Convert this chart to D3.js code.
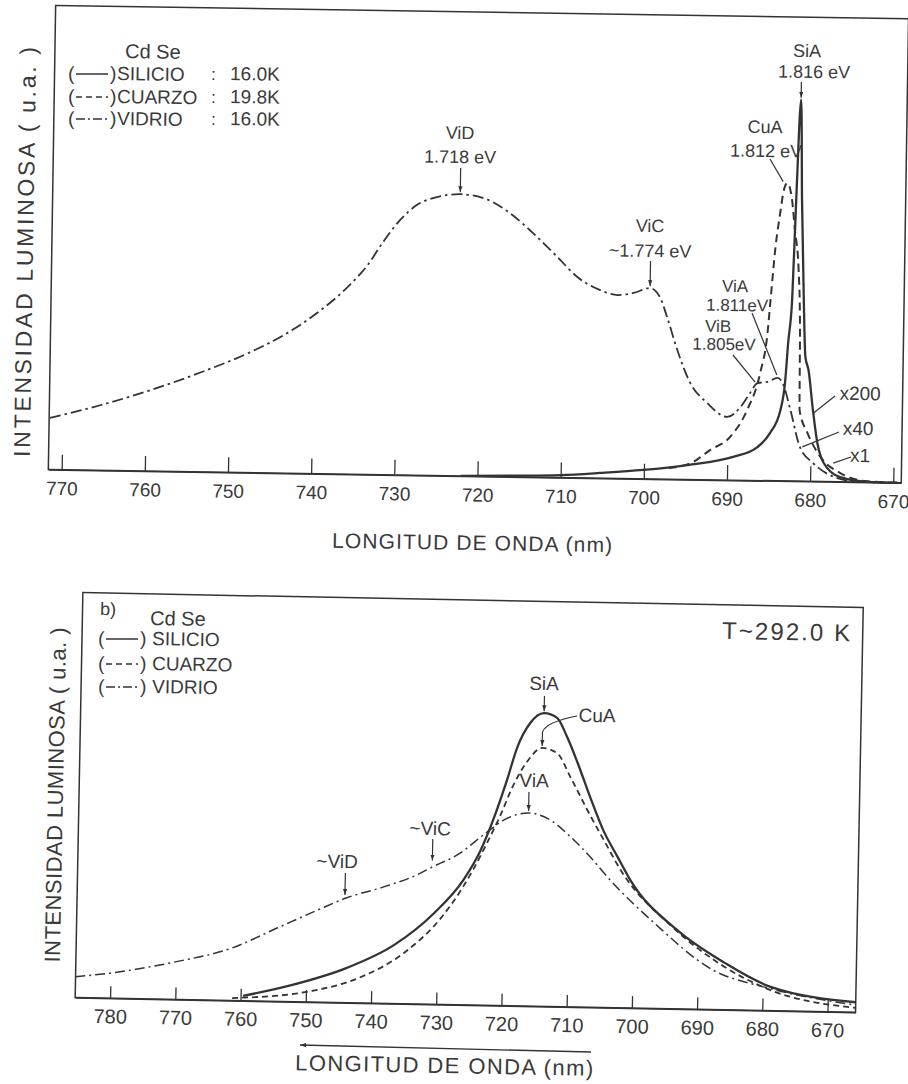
<!DOCTYPE html>
<html><head><meta charset="utf-8">
<script src="https://cdn.jsdelivr.net/npm/d3@7"></script>
<style>
body{margin:0;background:#fff}
svg text{font-family:"Liberation Sans",Arial,Helvetica,sans-serif;fill:#3a3a3a}
</style>
</head><body>
<svg id="chart" width="908" height="1084"></svg>
<script>
// ---------------- DATA ----------------
// Panel a) (low temperature) — wavelength (nm), intensity (a.u., 0-100 of frame height)
const topTickValues = [770,760,750,740,730,720,710,700,690,680,670];
const topSilicio = [[722,0],[716,0.2],[710,0.5],[705.3,1.1],[700.1,1.9],[694.8,3.1],[689.3,5.0],[686.4,7.2],[684.9,10.3],[683.7,15.3],[683.2,21.2],[682.9,29.7],[682.5,39.1],[682.2,60.6],[681.8,82.2],[681.5,60.6],[681.1,39.1],[680.8,26.8],[680.4,24.0],[679.8,15.4],[679.2,8.3],[678.4,4.0],[676.4,1.0],[673.1,0.1],[669.5,0]];
const topCuarzo = [[697,2.4],[694.1,3.8],[692.1,6.4],[689.7,9.3],[687.7,15.2],[686.2,23.2],[685.4,31.8],[685.1,38.9],[684.6,50.4],[684.1,57.7],[683.7,62.7],[683.3,64.2],[682.7,60.6],[682.3,54.1],[681.8,46.1],[681.5,32.6],[681.4,15.3],[680.4,10.4],[678.8,5.3],[676.4,1.9],[673.1,0.2],[669.5,0]];
const topVidrio = [[771.5,11.1],[765.5,14.0],[759.5,17.4],[753.5,21.4],[747.6,25.9],[743.6,29.7],[739.6,34.6],[735.7,40.8],[733.6,45.1],[731.8,50.1],[729.8,54.9],[727.8,58.2],[725.4,60.0],[722.6,60.7],[719.9,60.0],[716.6,56.8],[713.8,52.6],[710.8,47.5],[708.4,43.3],[705.6,40.5],[703.5,39.5],[701.6,40.0],[699.6,41.1],[698.4,39.2],[697.5,34.9],[696.2,27.8],[694.6,20.8],[692.5,16.5],[690.1,13.6],[688.5,15.8],[687.4,18.8],[686.5,21.0],[685.3,21.3],[684.1,22.2],[683.4,20.7],[682.5,15.3],[681.3,7.4],[679.7,4.0],[677.2,1.1],[674.3,0.1],[671,0]];
const topLegendNames = ["SILICIO","CUARZO","VIDRIO"];
const topLegendTemps = ["16.0K","19.8K","16.0K"];
// peak / feature markers: [key, wavelength, intensity]
const topPeakArrows = [["SiA",681.8,82.2],["ViD",722.6,60.7],["ViC",699.6,41.1]];
const topLeaders = [["CuA",683.8,64.5],["ViA",684.2,22.8],["ViB",686.8,21.2],["x200",679.75,14.7],["x40",681.0,7.4],["x1",677.25,4.0]];

// Panel b) (T ~ 292 K)
const botTickValues = [780,770,760,750,740,730,720,710,700,690,680,670];
const botSilicio = [[759.6,1.2],[752.4,4.0],[743.8,8.6],[736.6,14.5],[730.6,22.5],[726.2,30.8],[723.7,38.0],[721.8,45.8],[719.8,55.7],[718.3,63.9],[716.4,69.9],[714.3,72.4],[712.3,71.3],[710.7,66.6],[709.0,60.2],[707.0,51.9],[704.9,43.8],[702.6,37.2],[700.6,31.6],[693.3,19.5],[685.9,11.6],[678.8,5.9],[665.7,2.5]];
const botCuarzo = [[761.3,0.6],[748.9,2.8],[741.9,6.2],[734.9,12.8],[729.6,21.2],[726.2,29.2],[724.7,33.5],[722.7,40.0],[720.7,47.0],[718.8,54.5],[716.7,60.5],[714.5,63.8],[712.2,62.6],[710.1,56.8],[707.4,48.7],[704.8,41.4],[702.1,34.0],[694.0,20.2],[685.9,10.6],[678.8,5.1],[665.7,1.1]];
const botVidrio = [[785.4,5.1],[777.0,7.0],[770.3,9.2],[761.4,13.0],[754.6,18.1],[748.5,22.7],[744.0,25.9],[738.5,28.7],[733.3,31.9],[731.0,33.9],[727.2,37.0],[722.7,42.8],[720.2,45.8],[716.4,47.7],[713.0,46.0],[709.9,42.0],[706.8,37.1],[704.1,32.2],[696.8,21.1],[687.7,9.8],[679.7,5.8],[665.7,1.8]];
const botLegendNames = ["SILICIO","CUARZO","VIDRIO"];
const botPeakArrows = [["SiA",714.3,72.4],["ViA",716.4,47.7],["~ViC",731.0,35.0],["~ViD",744.3,26.1]];
const botCuaArrow = ["CuA",714.5,63.8];

// ---------------- LAYOUT ----------------
const INK = "#333";
const svg = d3.select("#chart");
const defs = svg.append("defs");
defs.append("marker").attr("id","ah").attr("viewBox","0 0 10 10").attr("refX",10).attr("refY",5)
  .attr("markerWidth",6).attr("markerHeight",6).attr("markerUnits","userSpaceOnUse").attr("orient","auto-start-reverse")
  .append("path").attr("d","M0,1.5 L10,5 L0,8.5 z").attr("fill",INK);

// the scan is slightly rotated; each panel is drawn upright and then rotated
function makeInv(theta, cx, cy){
  const c=Math.cos(theta), s=Math.sin(theta);
  return (x,y)=>{const dx=x-cx, dy=y-cy; return [cx+dx*c+dy*s, cy-dx*s+dy*c];};
}

function drawPanel(cfg){
  const inv = makeInv(cfg.theta, cfg.cx, cfg.cy);
  const g = svg.append("g").attr("transform",`rotate(${cfg.theta*180/Math.PI},${cfg.cx},${cfg.cy})`);
  const x = d3.scaleLinear().domain(cfg.xDomain).range(cfg.xRange);
  const y = d3.scaleLinear().domain([0,100]).range(cfg.yRange);
  const [x0,x1]=cfg.xRange, [yb,yt]=cfg.yRange;
  g.append("rect").attr("x",x0).attr("y",yt).attr("width",x1-x0).attr("height",yb-yt)
    .attr("fill","none").attr("stroke",INK).attr("stroke-width",1.5);
  const ax = g.append("g").attr("transform",`translate(0,${yb})`)
    .call(d3.axisBottom(x).tickValues(cfg.ticks).tickSize(-cfg.tickLen).tickSizeOuter(0).tickPadding(cfg.tickPad).tickFormat(d3.format("d")));
  ax.attr("font-family",null).attr("font-size",null);
  ax.select(".domain").attr("stroke",INK).attr("stroke-width",1.5);
  ax.selectAll(".tick line").attr("stroke",INK).attr("stroke-width",1.3);
  ax.selectAll(".tick text").attr("font-size",cfg.tickFont).attr("fill","#3a3a3a");

  const line = d3.line().x(d=>x(d[0])).y(d=>y(d[1])).curve(d3.curveMonotoneX);
  cfg.series.forEach(s=>{
    g.append("path").datum(s.data).attr("d",line).attr("fill","none").attr("stroke",INK)
      .attr("stroke-width",s.w).attr("stroke-dasharray",s.dash).attr("stroke-linejoin","round");
  });
  return {g,x,y,inv};
}

function text(g, inv, t, px, py, fs, anchor, extra){
  const p = inv(px,py);
  const el = g.append("text").attr("x",p[0]).attr("y",p[1]).attr("font-size",fs)
    .attr("text-anchor",anchor||"middle").text(t);
  if(extra) extra(el);
  return el;
}
const legendDash = [null,"6,4","9,3,2,3"];

// ---------- PANEL A ----------
const A = drawPanel({
  theta:0.0157, cx:470, cy:240,
  xDomain:[771.6,669.04], xRange:[52,905], yRange:[476,12],
  ticks:topTickValues, tickLen:15, tickPad:12, tickFont:19,
  series:[
    {data:topVidrio,w:1.8,dash:"11,4,2.5,4"},
    {data:topCuarzo,w:2,dash:"8,5"},
    {data:topSilicio,w:2.3,dash:null}
  ]
});
(function(){
  const p = A.inv(472,550);
  A.g.append("text").attr("x",p[0]).attr("y",p[1]).attr("font-size",21).attr("text-anchor","middle")
    .attr("textLength",280).attr("lengthAdjust","spacing").text("LONGITUD  DE  ONDA (nm)");
  const q = A.inv(33,252);
  A.g.append("text").attr("transform",`translate(${q[0]},${q[1]}) rotate(-90)`).attr("font-size",23)
    .attr("text-anchor","middle").attr("textLength",410).attr("lengthAdjust","spacing").text("INTENSIDAD  LUMINOSA  ( u.a. )");
})();
text(A.g,A.inv,"Cd Se",125,58,20,"start");
[80,103,125].forEach((bl,i)=>{
  text(A.g,A.inv,"(",68,bl,19,"start");
  const a=A.inv(76,bl-6), b=A.inv(108,bl-6);
  A.g.append("line").attr("x1",a[0]).attr("y1",a[1]).attr("x2",b[0]).attr("y2",b[1]).attr("stroke",INK)
    .attr("stroke-width",1.6).attr("stroke-dasharray",legendDash[i]);
  text(A.g,A.inv,")",110,bl,19,"start");
  text(A.g,A.inv,topLegendNames[i],117,bl,19,"start");
  text(A.g,A.inv,":",211,bl,17,"start");
  text(A.g,A.inv,topLegendTemps[i],230,bl,19,"start");
});
const topLabelPos = [
  ["SiA",807,57,18],["1.816 eV",814,78,18],
  ["ViD",460,139,18],["1.718 eV",460,163,18],
  ["ViC",650,232,18],["~1.774 eV",650,257,18],
  ["CuA",765,133,18],["1.812 eV",766,157,18],
  ["ViA",735,292,17],["1.811eV",737,311,17],
  ["ViB",718,332,17],["1.805eV",724,350,17],
  ["x200",860,400,19],["x40",858,435,19],["x1",860,462,19]
];
const topArrowStart = {"SiA":[801,82],"ViD":[460,168],"ViC":[652,261]};
const topLeaderStart = {"CuA":[770,159],"ViA":[752,313],"ViB":[733,355],"x200":[835,396],"x40":[839,432],"x1":[851,457]};
topLabelPos.forEach(([t,px,py,fs])=>text(A.g,A.inv,t,px,py,fs,"middle"));
topPeakArrows.forEach(([k,nm,I])=>{
  const tx=A.x(nm), ty=A.y(I)-2, s=A.inv(...topArrowStart[k]);
  A.g.append("line").attr("x1",tx).attr("y1",s[1]).attr("x2",tx).attr("y2",ty)
    .attr("stroke",INK).attr("stroke-width",1.2).attr("marker-end","url(#ah)");
});
topLeaders.forEach(([k,nm,I])=>{
  const s=A.inv(...topLeaderStart[k]);
  A.g.append("line").attr("x1",s[0]).attr("y1",s[1]).attr("x2",A.x(nm)).attr("y2",A.y(I))
    .attr("stroke",INK).attr("stroke-width",1.2);
});

// ---------- PANEL B ----------
const B = drawPanel({
  theta:0.019, cx:470, cy:800,
  xDomain:[785.35,665.7], xRange:[79,859.5], yRange:[1005,600],
  ticks:botTickValues, tickLen:12, tickPad:11, tickFont:20,
  series:[
    {data:botVidrio,w:1.5,dash:"10,4,2,4"},
    {data:botCuarzo,w:1.8,dash:"6,4"},
    {data:botSilicio,w:2.3,dash:null}
  ]
});
(function(){
  const p = B.inv(444,1073);
  B.g.append("text").attr("x",p[0]).attr("y",p[1]).attr("font-size",22).attr("text-anchor","middle")
    .attr("textLength",298).attr("lengthAdjust","spacing").text("LONGITUD  DE  ONDA (nm)");
  const a=B.inv(591,1052), b=B.inv(300,1045);
  B.g.append("line").attr("x1",a[0]).attr("y1",a[1]).attr("x2",b[0]).attr("y2",b[1])
    .attr("stroke",INK).attr("stroke-width",1.3).attr("marker-end","url(#ah)");
  const q = B.inv(63,795);
  B.g.append("text").attr("transform",`translate(${q[0]},${q[1]}) rotate(-90)`).attr("font-size",22)
    .attr("text-anchor","middle").attr("textLength",335).attr("lengthAdjust","spacing").text("INTENSIDAD LUMINOSA ( u.a. )");
})();
text(B.g,B.inv,"b)",100,615,18,"start");
text(B.g,B.inv,"Cd Se",150,625,20,"start");
[645,670,693].forEach((bl,i)=>{
  text(B.g,B.inv,"(",98,bl,19,"start");
  const a=B.inv(106,bl-6), b=B.inv(138,bl-6);
  B.g.append("line").attr("x1",a[0]).attr("y1",a[1]).attr("x2",b[0]).attr("y2",b[1]).attr("stroke",INK)
    .attr("stroke-width",1.6).attr("stroke-dasharray",legendDash[i]);
  text(B.g,B.inv,")",140,bl,19,"start");
  text(B.g,B.inv,botLegendNames[i],152,bl,19,"start");
});
text(B.g,B.inv,"T~292.0 K",786,640,24,"middle",el=>el.attr("textLength",128).attr("lengthAdjust","spacing"));
const botLabelPos = {"SiA":[544,690],"ViA":[534,787],"~ViC":[430,835],"~ViD":[337,868]};
const botArrowStart = {"SiA":[544,696],"ViA":[528,792],"~ViC":[432,839],"~ViD":[345,873]};
botPeakArrows.forEach(([k,nm,I])=>{
  text(B.g,B.inv,k,...botLabelPos[k],19,"middle");
  const tx=B.x(nm), ty=B.y(I)-2, s=B.inv(...botArrowStart[k]);
  B.g.append("line").attr("x1",tx).attr("y1",s[1]).attr("x2",tx).attr("y2",ty)
    .attr("stroke",INK).attr("stroke-width",1.2).attr("marker-end","url(#ah)");
});
(function(){
  const [k,nm,I]=botCuaArrow;
  text(B.g,B.inv,k,597,722,19,"middle");
  const s=B.inv(577,716), c=B.inv(546,722), tx=B.x(nm), ty=B.y(I)-2, m=B.inv(546,732);
  B.g.append("path").attr("d",`M${s[0]},${s[1]} Q${c[0]},${c[1]} ${tx},${m[1]} L${tx},${ty}`)
    .attr("fill","none").attr("stroke",INK).attr("stroke-width",1.2).attr("marker-end","url(#ah)");
})();
</script>
</body></html>
